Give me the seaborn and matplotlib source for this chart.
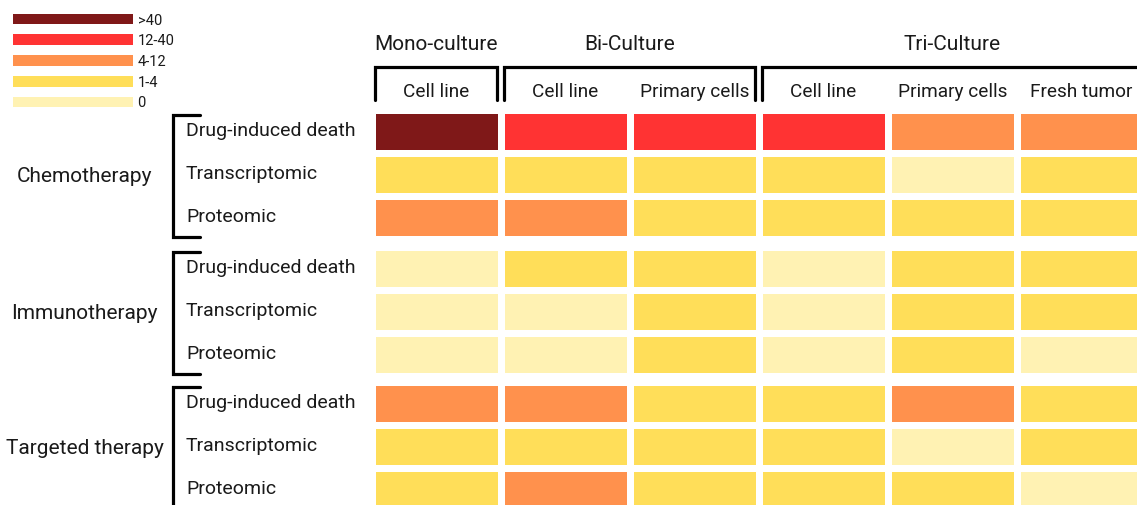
import numpy as np
import matplotlib
matplotlib.use("Agg")
import matplotlib.pyplot as plt
from matplotlib.colors import ListedColormap
from matplotlib import transforms
import seaborn as sns

# Legend levels (index 0 = "0" ... 4 = ">40")
levels = ["0", "1-4", "4-12", "12-40", ">40"]
level_colors = ["#fff2b3", "#ffde59", "#ff914d", "#ff3333", "#7f1818"]

cultures = ["Mono-culture", "Bi-Culture", "Tri-Culture"]
culture_span = [1, 2, 3]
columns = ["Cell line", "Cell line", "Primary cells",
           "Cell line", "Primary cells", "Fresh tumor"]
readouts = ["Drug-induced death", "Transcriptomic", "Proteomic"]
therapies = ["Chemotherapy", "Immunotherapy", "Targeted therapy"]

# level index per cell, rows = readouts, cols = columns
chemo = [[4, 3, 3, 3, 2, 2],
         [1, 1, 1, 1, 0, 1],
         [2, 2, 1, 1, 1, 1]]
immuno = [[0, 1, 1, 0, 1, 1],
          [0, 0, 1, 0, 1, 1],
          [0, 0, 1, 0, 1, 0]]
targeted = [[2, 2, 1, 1, 2, 1],
            [1, 1, 1, 1, 0, 1],
            [1, 2, 1, 1, 1, 0]]
groups = [chemo, immuno, targeted]

sns.set_theme(style="white")
plt.rcParams["font.family"] = ["Roboto", "DejaVu Sans"]
txt = "#1a1a1a"

W, H = 1137, 505
fig = plt.figure(figsize=(W / 100, H / 100), dpi=100)


def box(left, top, right, bottom):
    return [left / W, 1 - bottom / H, (right - left) / W, (bottom - top) / H]


cmap = ListedColormap(level_colors)
tops = [109.5, 246.5, 381.5]

for i, (vals, name) in enumerate(zip(groups, therapies)):
    ax = fig.add_axes(box(372, tops[i], 1146, tops[i] + 129))
    sns.heatmap(np.array(vals), ax=ax, cmap=cmap, vmin=-0.5, vmax=4.5,
                cbar=False, linewidths=5, linecolor="white",
                xticklabels=columns if i == 0 else False,
                yticklabels=readouts)
    ax.tick_params(axis="y", length=0, pad=134, labelsize=14, labelcolor=txt)
    for t in ax.get_yticklabels():
        t.set_ha("left")
        t.set_rotation(0)

    # bracket + therapy label on the left
    tr = transforms.blended_transform_factory(ax.transAxes, ax.transData)
    ax.plot([-0.222, -0.257, -0.257, -0.222], [0.13, 0.13, 2.97, 2.97],
            color="black", lw=2.3, transform=tr, clip_on=False,
            solid_joinstyle="miter")
    ax.text(-0.371, 1.55, name, transform=tr, ha="center", va="center",
            fontsize=15, color=txt)

    if i == 0:
        ax.xaxis.tick_top()
        ax.tick_params(axis="x", length=0, pad=6, labelsize=13.7, labelcolor=txt)
        for t in ax.get_xticklabels():
            t.set_rotation(0)
        trx = transforms.blended_transform_factory(ax.transData, ax.transAxes)
        start = 0
        for name_c, span in zip(cultures, culture_span):
            end = start + span
            x0, x1 = start + 0.025, end - 0.03
            ax.plot([x0, x0, x1, x1], [1.074, 1.329, 1.329, 1.074],
                    color="black", lw=2.3, transform=trx, clip_on=False,
                    solid_joinstyle="miter")
            ax.text((start + end) / 2, 1.5, name_c, transform=trx,
                    ha="center", va="center", fontsize=15, color=txt)
            start = end

# legend as a one-column heatmap
axl = fig.add_axes(box(7.75, 8.75, 138.25, 112.25))
leg_codes = np.arange(len(levels))[::-1].reshape(-1, 1)
sns.heatmap(leg_codes, ax=axl, cmap=cmap, vmin=-0.5, vmax=4.5, cbar=False,
            linewidths=6.1, linecolor="white",
            xticklabels=False, yticklabels=levels[::-1])
axl.yaxis.tick_right()
axl.tick_params(axis="y", length=0, pad=-0.5, labelsize=10.5, labelcolor=txt)
for t in axl.get_yticklabels():
    t.set_rotation(0)
    t.set_ha("left")

fig.savefig("out.png", dpi=100)
